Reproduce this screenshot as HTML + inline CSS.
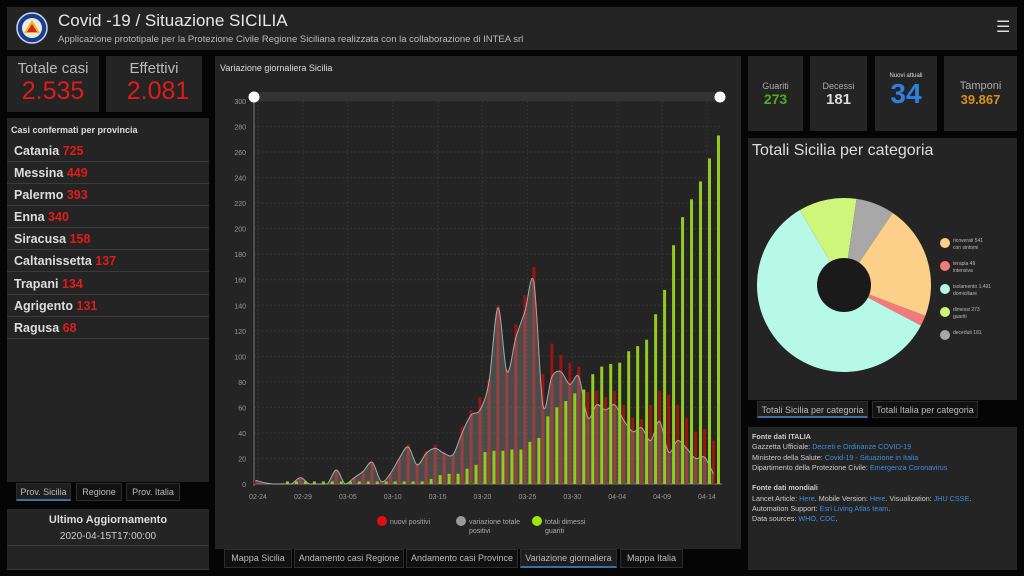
<!DOCTYPE html>
<html><head><meta charset="utf-8">
<style>
*{box-sizing:border-box;margin:0;padding:0}
body{width:1024px;height:576px;background:#050505;font-family:"Liberation Sans",sans-serif;position:relative;overflow:hidden;color:#ddd}
.p{position:absolute;background:#242424}
.t{position:absolute;white-space:nowrap}
.tab{position:absolute;background:#111;border:1px solid #2c2c2c;color:#bbb;font-size:9px;text-align:center;line-height:17px}
.tab.on{background:#1e1e1e;border-bottom:2px solid #3a6ea5}
.row{position:absolute;left:7px;width:202px;height:22px;border-bottom:1px solid #3a3a3a;font-size:12.5px;font-weight:bold;color:#ddd;padding-left:7px;line-height:22px}
.row b{color:#e01b1b}
.tile{position:absolute;top:56px;height:75px;background:#242424;text-align:center}
a{color:#3b8fe0;text-decoration:none}
</style></head><body>
<div class="p" style="left:7px;top:7px;width:1010px;height:43px"></div>
<svg style="position:absolute;left:16px;top:12px" width="32" height="32"><circle cx="16" cy="16" r="15" fill="#1a3d8f" stroke="#cfd8f0" stroke-width="1.5"/><circle cx="16" cy="16" r="10" fill="#e8e8e8"/><polygon points="16,8 24,21 8,21" fill="#f2b705"/><polygon points="16,12 21,20 11,20" fill="#d42020"/></svg>
<div class="t" style="left:58px;top:11px;font-size:17px;color:#e6e6e6">Covid -19 / Situazione SICILIA</div>
<div class="t" style="left:58px;top:34px;font-size:9.5px;color:#bbb">Applicazione prototipale per la Protezione Civile Regione Siciliana realizzata con la collaborazione di INTEA srl</div>
<div class="t" style="left:996px;top:17px;font-size:16px;color:#ddd">☰</div>

<div class="p" style="left:7px;top:56px;width:92px;height:56px"></div>
<div class="t" style="left:7px;width:92px;text-align:center;top:60px;font-size:15px;color:#bbb">Totale casi</div>
<div class="t" style="left:7px;width:92px;text-align:center;top:77px;font-size:25px;color:#e01b1b">2.535</div>
<div class="p" style="left:106px;top:56px;width:96px;height:56px"></div>
<div class="t" style="left:106px;width:96px;text-align:center;top:60px;font-size:15px;color:#bbb">Effettivi</div>
<div class="t" style="left:106px;width:104px;text-align:center;top:77px;font-size:25px;color:#e01b1b">2.081</div>

<div class="p" style="left:7px;top:118px;width:202px;height:364px"></div>
<div class="t" style="left:11px;top:125px;font-size:9px;color:#ddd;font-weight:bold">Casi confermati per provincia</div>
<div class="row" style="top:140px">Catania <b>725</b></div>
<div class="row" style="top:162px">Messina <b>449</b></div>
<div class="row" style="top:184px">Palermo <b>393</b></div>
<div class="row" style="top:206px">Enna <b>340</b></div>
<div class="row" style="top:228px">Siracusa <b>158</b></div>
<div class="row" style="top:250px">Caltanissetta <b>137</b></div>
<div class="row" style="top:273px">Trapani <b>134</b></div>
<div class="row" style="top:295px">Agrigento <b>131</b></div>
<div class="row" style="top:317px">Ragusa <b>68</b></div>
<div class="tab on" style="left:16px;top:483px;width:55px;height:18px">Prov. Sicilia</div>
<div class="tab" style="left:76px;top:483px;width:46px;height:18px">Regione</div>
<div class="tab" style="left:126px;top:483px;width:54px;height:18px">Prov. Italia</div>
<div class="p" style="left:7px;top:509px;width:202px;height:61px;border-bottom:1px solid #3a3a3a"></div>
<div style="position:absolute;left:7px;top:545px;width:202px;height:1px;background:#3a3a3a"></div>
<div class="t" style="left:7px;width:202px;text-align:center;top:514px;font-size:11px;font-weight:bold;color:#ddd">Ultimo Aggiornamento</div>
<div class="t" style="left:7px;width:202px;text-align:center;top:531px;font-size:10px;color:#ccc">2020-04-15T17:00:00</div>

<div class="p" style="left:215px;top:56px;width:526px;height:493px"></div>
<div class="t" style="left:220px;top:63px;font-size:9px;color:#ddd">Variazione giornaliera Sicilia</div>
<svg id="chart" style="position:absolute;left:0;top:0" width="1024" height="576"></svg>
<div class="tab" style="left:224px;top:549px;width:68px;height:19px">Mappa Sicilia</div>
<div class="tab" style="left:294px;top:549px;width:110px;height:19px">Andamento casi Regione</div>
<div class="tab" style="left:406px;top:549px;width:112px;height:19px">Andamento casi Province</div>
<div class="tab on" style="left:520px;top:549px;width:97px;height:19px">Variazione giornaliera</div>
<div class="tab" style="left:620px;top:549px;width:63px;height:19px">Mappa Italia</div>

<div class="tile" style="left:748px;width:55px"><div style="font-size:9px;color:#aaa;margin-top:25px">Guariti</div><div style="font-size:14px;font-weight:bold;color:#4cae1f">273</div></div>
<div class="tile" style="left:810px;width:57px"><div style="font-size:9px;color:#aaa;margin-top:25px">Decessi</div><div style="font-size:15px;font-weight:bold;color:#ddd">181</div></div>
<div class="tile" style="left:875px;width:62px"><div style="font-size:6px;color:#ddd;margin-top:17px">Nuovi attuali</div><div style="font-size:28px;font-weight:bold;color:#2d7fe0;line-height:30px">34</div></div>
<div class="tile" style="left:944px;width:73px"><div style="font-size:11px;color:#aaa;margin-top:24px">Tamponi</div><div style="font-size:13px;font-weight:bold;color:#d9901c">39.867</div></div>

<div class="p" style="left:748px;top:138px;width:269px;height:262px"></div>
<div class="t" style="left:752px;top:142px;font-size:16px;color:#ddd">Totali Sicilia per categoria</div>
<svg id="pie" style="position:absolute;left:748px;top:138px" width="269" height="262"></svg>
<div class="tab on" style="left:757px;top:401px;width:111px;height:17px">Totali Sicilia per categoria</div>
<div class="tab" style="left:872px;top:401px;width:106px;height:17px">Totali Italia per categoria</div>

<div class="p" style="left:748px;top:427px;width:269px;height:143px;font-size:7.2px;line-height:10.3px;color:#ccc;padding:5px 4px">
<b>Fonte dati ITALIA</b><br>Gazzetta Ufficiale: <a>Decreti e Ordinanze COVID-19</a><br>Ministero della Salute: <a>Covid-19 - Situazione in Italia</a><br>Dipartimento della Protezione Civile: <a>Emergenza Coronavirus</a><br><br><b>Fonte dati mondiali</b><br>Lancet Article: <a>Here</a>. Mobile Version: <a>Here</a>. Visualization: <a>JHU CSSE</a>.<br>Automation Support: <a>Esri Living Atlas team</a>.<br>Data sources: <a>WHO, CDC</a>.
</div>

<script>
const dateLabels=["02-24","02-29","03-05","03-10","03-15","03-20","03-25","03-30","04-04","04-09","04-14"];
const yTicks=[0,20,40,60,80,100,120,140,160,180,200,220,240,260,280,300];
const nuoviPositivi=[3,1,0,1,0,5,0,0,0,11,0,5,10,17,2,8,20,31,16,26,31,25,23,45,58,68,82,140,90,125,148,170,86,110,101,95,92,72,73,68,73,62,52,51,62,73,70,62,52,41,43,34];
const variazionePositivi=[3,1,0,0,0,5,0,0,0,11,0,5,10,17,2,8,20,29,15,24,28,24,23,40,54,58,80,138,88,115,135,158,62,84,88,78,84,52,62,58,62,50,41,44,34,49,25,34,28,20,21,8];
const dimessiGuariti=[0,0,0,2,2,2,2,2,2,2,2,2,2,2,2,2,2,2,2,4,7,8,8,12,15,25,26,26,27,27,33,36,53,60,65,71,74,86,92,94,95,104,108,113,133,152,187,209,223,237,255,273];
const NS="http://www.w3.org/2000/svg";
const svg=document.getElementById('chart');
const X=i=>258+i*8.98;
const Y=v=>484-v*1.2767;
function el(tag,attrs,parent){const e=document.createElementNS(NS,tag);for(const k in attrs)e.setAttribute(k,attrs[k]);(parent||svg).appendChild(e);return e;}
yTicks.forEach(v=>{
  const g=el('line',{x1:254,x2:722,y1:Y(v),y2:Y(v),stroke:'#333','stroke-dasharray':'2,2'});
  
  
  const t=el('text',{x:246,y:Y(v)+3,'text-anchor':'end','font-size':7,fill:'#999'});
  t.textContent=v;
  
  
});
dateLabels.forEach((d,k)=>{
  const i=k*5;
  const g=el('line',{x1:X(i),x2:X(i),y1:Y(300),y2:484,stroke:'#333','stroke-dasharray':'2,2'});
  
  
  const t=el('text',{x:X(i),y:499,'text-anchor':'middle','font-size':7,fill:'#999'});
  t.textContent=d;
  
  
});
el('line',{x1:254,x2:254,y1:Y(300),y2:486,stroke:'#777'});
el('line',{x1:254,x2:722,y1:484,y2:484,stroke:'#777'});
nuoviPositivi.forEach((v,i)=>{
  const r=el('rect',{x:X(i)-4,y:Y(v),width:3,height:v*1.2767,fill:'#9a1414'});
  
  
});
// smooth grey area
let pts=variazionePositivi.map((v,i)=>[X(i)-2.5,Y(v)]);
let d='M'+pts[0][0]+','+pts[0][1];
for(let i=0;i<pts.length-1;i++){
  const p0=pts[Math.max(0,i-1)],p1=pts[i],p2=pts[i+1],p3=pts[Math.min(pts.length-1,i+2)];
  const c1=[p1[0]+(p2[0]-p0[0])/6,p1[1]+(p2[1]-p0[1])/6],c2=[p2[0]-(p3[0]-p1[0])/6,p2[1]-(p3[1]-p1[1])/6];
  d+=` C${c1[0]},${Math.min(484,c1[1])} ${c2[0]},${Math.min(484,c2[1])} ${p2[0]},${p2[1]}`;
}
const area=el('path',{d:d+` L${pts[pts.length-1][0]},484 L${pts[0][0]},484 Z`,fill:'rgba(150,150,150,0.35)',stroke:'none'});


const line=el('path',{d:d,fill:'none',stroke:'#aaa','stroke-width':1});


dimessiGuariti.forEach((v,i)=>{
  if(!v)return;
  const r=el('rect',{x:X(i)+1,y:Y(v),width:3,height:v*1.2767,fill:'#92cc1c'});
  
  
});
const sl=el('rect',{x:254,y:92,width:466,height:9,fill:'#333'});


[254,720].forEach(x=>{
  const h=el('circle',{cx:x,cy:97,r:5.5,fill:'#fff'});
  
  
});
const legend=[["nuovi positivi","",'#e01010',382],["variazione totale","positivi",'#999',461],["totali dimessi","guariti",'#9ee612',537]];
legend.forEach(l=>{
  const c=el('circle',{cx:l[3],cy:521,r:5,fill:l[2]});
  
  
  const t=el('text',{x:l[3]+8,y:524,'font-size':7,fill:'#aaa'});t.textContent=l[0];
  
  
  if(l[1]){const t2=el('text',{x:l[3]+8,y:533,'font-size':7,fill:'#aaa'});t2.textContent=l[1];}
});
// pie
const catLabels=[["ricoverati","con sintomi"],["terapia","intensiva"],["isolamento","domiciliare"],["dimessi","guariti"],["deceduti",""]];
const catValues=[541,49,1491,273,181];
const catColors=['#fcd088','#f27a7a','#b6f9e6','#cdf67a','#a8a8a8'];
const pie=document.getElementById('pie');
const cx=96,cy=147,R=87,r0=27;
const tot=catValues.reduce((a,b)=>a+b,0);
let a=34*Math.PI/180;
catValues.forEach((v,i)=>{
  const a2=a+v/tot*2*Math.PI;
  const P=(ang,rr)=>[cx+rr*Math.sin(ang),cy-rr*Math.cos(ang)];
  const [x1,y1]=P(a,R),[x2,y2]=P(a2,R);
  const large=(a2-a)>Math.PI?1:0;
  const s=el('path',{d:`M${cx},${cy} L${x1},${y1} A${R},${R} 0 ${large} 1 ${x2},${y2} Z`,fill:catColors[i]},pie);
  
  
  a=a2;
  const ly=105+i*23;
  const m=el('circle',{cx:197,cy:ly,r:5,fill:catColors[i]},pie);
  
  
  const t=el('text',{x:205,y:ly-1,'font-size':5,fill:'#bbb'},pie);
  t.textContent=catLabels[i][0]+'   '+catValues[i].toLocaleString('it-IT');
  
  
  if(catLabels[i][1]){const t2=el('text',{x:205,y:ly+6,'font-size':5,fill:'#bbb'},pie);t2.textContent=catLabels[i][1];}
});
el('circle',{cx:cx,cy:cy,r:r0,fill:'#1a1a1a'},pie);
</script>
</body></html>
